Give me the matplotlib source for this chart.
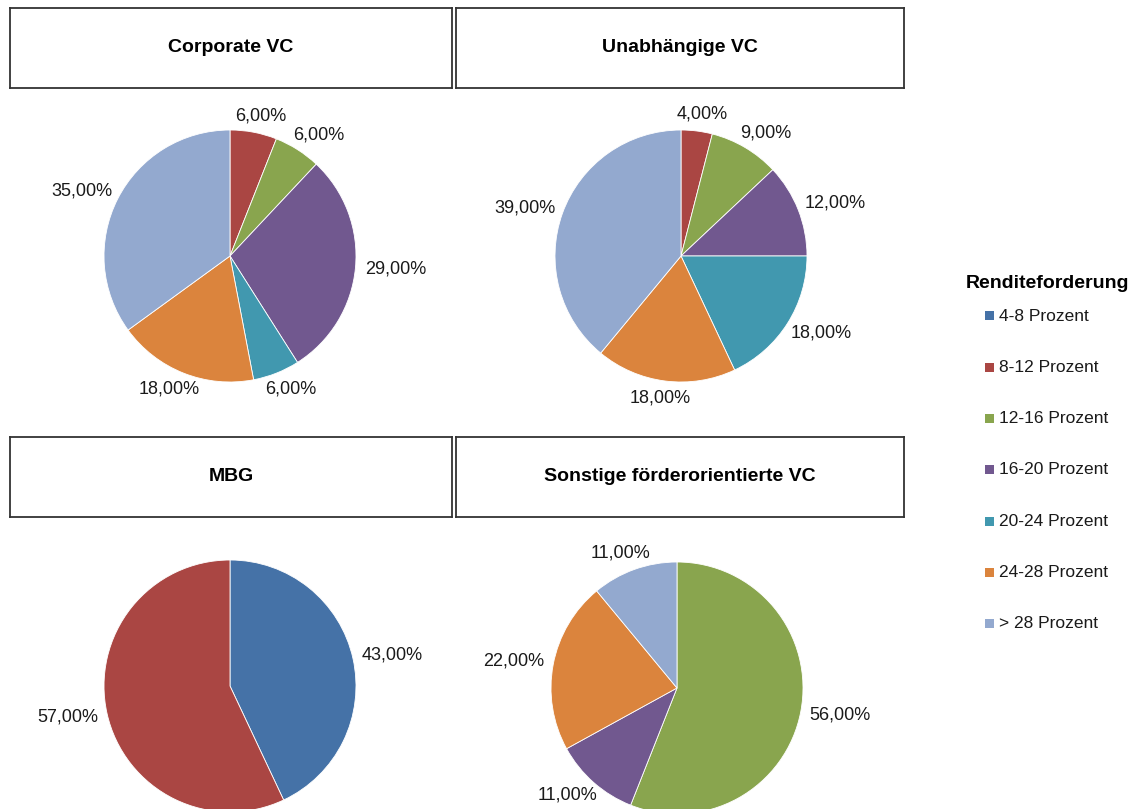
import numpy as np
import matplotlib
matplotlib.use("Agg")
import matplotlib.pyplot as plt
from matplotlib.patches import Rectangle

plt.rcParams['font.family'] = ['Liberation Sans', 'DejaVu Sans']

# Kategorien der Renditeforderung
kategorien = ['4-8 Prozent', '8-12 Prozent', '12-16 Prozent', '16-20 Prozent',
              '20-24 Prozent', '24-28 Prozent', '> 28 Prozent']
farben = ['#4572A7', '#AA4643', '#89A54E', '#71588F', '#4198AF', '#DB843D', '#93A9CF']

# Anteile je Investorengruppe (Prozent)
titel = ['Corporate VC', 'Unabhängige VC', 'MBG', 'Sonstige förderorientierte VC']
corporate_vc = [0, 6, 6, 29, 6, 18, 35]
unabhaengige_vc = [0, 4, 9, 12, 18, 18, 39]
mbg = [43, 57, 0, 0, 0, 0, 0]
sonstige_vc = [0, 0, 56, 11, 0, 22, 11]
daten = [corporate_vc, unabhaengige_vc, mbg, sonstige_vc]

W, H = 1147, 809
fig = plt.figure(figsize=(W / 100, H / 100), dpi=100)
fig.patch.set_facecolor('white')


def box(x, y, w, h):
    # Pixelkoordinaten (oben links) -> Figurkoordinaten
    return [x / W, 1 - (y + h) / H, w / W, h / H]


# Titelboxen
boxen = [(10, 8, 442, 80), (456, 8, 448, 80), (10, 437, 442, 80), (456, 437, 448, 80)]
for (bx, by, bw, bh), t in zip(boxen, titel):
    ax = fig.add_axes(box(bx, by, bw, bh))
    ax.set_xticks([])
    ax.set_yticks([])
    for s in ax.spines.values():
        s.set_linewidth(1.3)
        s.set_color('#333333')
    ax.text(0.5, 0.5, t, ha='center', va='center', fontsize=14,
            fontweight='bold', transform=ax.transAxes)

# Tortendiagramme
R = 126
lim = 1.45
mitten = [(230, 256), (681, 256), (230, 686), (677, 688)]
for (cx, cy), werte in zip(mitten, daten):
    S = 2 * lim * R
    ax = fig.add_axes(box(cx - S / 2, cy - S / 2, S, S))
    idx = [i for i, v in enumerate(werte) if v > 0]
    vals = [werte[i] for i in idx]
    wedges, _ = ax.pie(vals, colors=[farben[i] for i in idx], startangle=90,
                       counterclock=False, radius=1,
                       wedgeprops=dict(edgecolor='white', linewidth=0.6))
    ax.set_xlim(-lim, lim)
    ax.set_ylim(-lim, lim)
    ax.set_aspect('equal')
    ax.axis('off')
    for w, v in zip(wedges, vals):
        ang = np.deg2rad((w.theta1 + w.theta2) / 2)
        s, c = np.cos(ang), np.sin(ang)
        # Beschriftung ausserhalb des Randes (Versatz in Pixeln / R)
        x = s + 40 * s / R
        y = c + 17 * c / R
        ax.text(x, y, f'{v:.2f}%'.replace('.', ','), ha='center',
                va='center', fontsize=13, color='#1a1a1a', clip_on=False)

# Legende (manuell, Einträge eingerückt wie im Original)
fig.text(966 / W, 1 - 284 / H, 'Renditeforderung', ha='left', va='center',
         fontsize=14, fontweight='bold')
for i, (k, f) in enumerate(zip(kategorien, farben)):
    y = 316 + 51.3 * i
    fig.add_artist(Rectangle((985 / W, 1 - (y + 4.5) / H), 9 / W, 9 / H,
                             facecolor=f, edgecolor='none',
                             transform=fig.transFigure))
    fig.text(999 / W, 1 - y / H, k, ha='left', va='center', fontsize=12.5,
             color='#1a1a1a')

fig.savefig('out.png', dpi=100)
